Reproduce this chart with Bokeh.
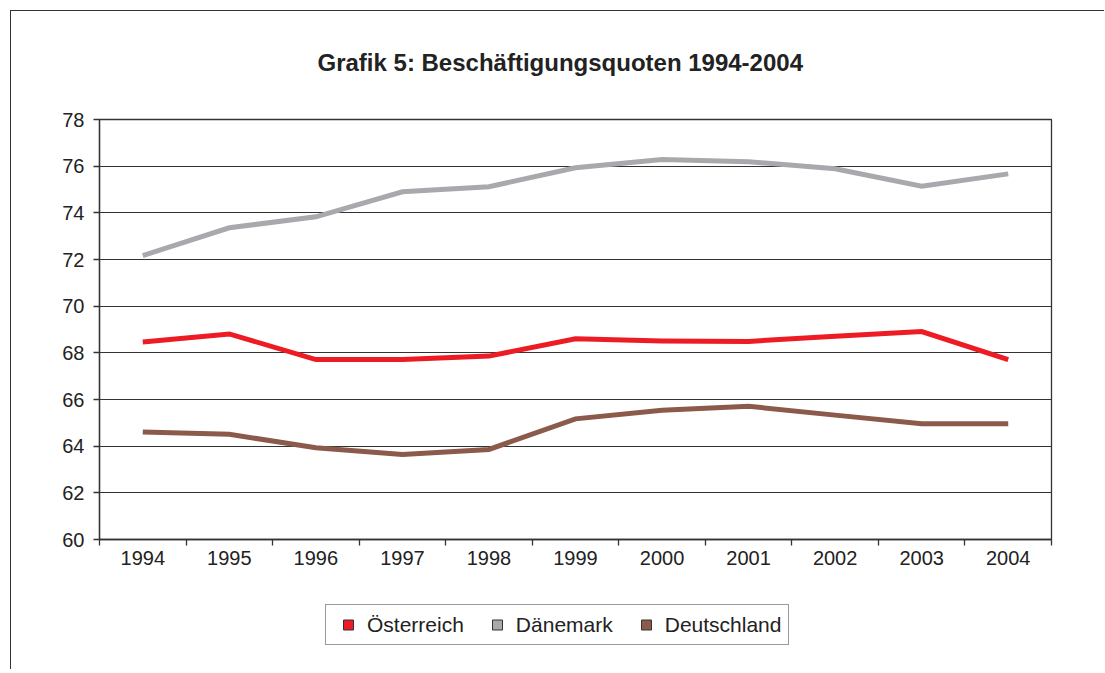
from bokeh.plotting import figure
from bokeh.layouts import column
from bokeh.models import FixedTicker, Legend, LegendItem, Title
from bokeh.embed import file_html
from bokeh.resources import INLINE

# ---- data ----
years = ["1994", "1995", "1996", "1997", "1998", "1999", "2000", "2001", "2002", "2003", "2004"]
oesterreich = [68.46, 68.81, 67.71, 67.71, 67.86, 68.60, 68.51, 68.49, 68.71, 68.91, 67.71]
daenemark = [72.17, 73.36, 73.83, 74.90, 75.12, 75.93, 76.29, 76.19, 75.89, 75.14, 75.67]
deutschland = [64.61, 64.51, 63.93, 63.64, 63.86, 65.17, 65.54, 65.71, 65.33, 64.96, 64.96]
series_names = ["Österreich", "Dänemark", "Deutschland"]
y_ticks = [60, 62, 64, 66, 68, 70, 72, 74, 76, 78]
title_text = "Grafik 5: Beschäftigungsquoten 1994-2004"

colors = {"Österreich": "#ED1C24", "Dänemark": "#A7A9AC", "Deutschland": "#8B5A4A"}

FONT = "Liberation Sans"

# category centres on a numeric axis (index + 0.5), boundaries at integers
xpos = [i + 0.5 for i in range(len(years))]
bounds = list(range(len(years) + 1))
data = {"Österreich": oesterreich, "Dänemark": daenemark, "Deutschland": deutschland}

W = 1093
p = figure(width=W, height=578, output_backend="svg", toolbar_location=None,
           x_range=(0, len(years)), y_range=(y_ticks[0], y_ticks[-1]),
           min_border_left=88, min_border_right=53, min_border_top=108, min_border_bottom=50)
p.background_fill_color = "white"
p.border_fill_color = "white"
p.outline_line_color = "#333333"
p.outline_line_width = 1.3

# spacer between the title and the plot area, then the title itself
p.add_layout(Title(text=" ", text_font=FONT, text_font_size="24px", standoff=15), "above")
p.title.text = title_text
p.title.align = "left"
p.title.offset = 218
p.title.standoff = 0
p.title.text_font = FONT
p.title.text_font_size = "24px"
p.title.text_font_style = "bold"
p.title.text_color = "#222222"

# axes
xa = p.xaxis[0]
xa.ticker = FixedTicker(ticks=xpos, minor_ticks=bounds)
xa.major_label_overrides = {x: y for x, y in zip(xpos, years)}
xa.major_tick_line_color = None
xa.major_tick_out = 6
xa.major_tick_in = 0
xa.minor_tick_line_color = "#333333"
xa.minor_tick_line_width = 1.3
xa.minor_tick_out = 6
xa.minor_tick_in = 0
xa.axis_line_color = "#333333"
xa.axis_line_width = 1.3
xa.major_label_text_font = FONT
xa.major_label_text_font_size = "20px"
xa.major_label_text_color = "#222222"
xa.major_label_standoff = 5

ya = p.yaxis[0]
ya.ticker = FixedTicker(ticks=y_ticks)
ya.minor_tick_line_color = None
ya.major_tick_out = 6
ya.major_tick_in = 0
ya.major_tick_line_color = "#333333"
ya.major_tick_line_width = 1.3
ya.axis_line_color = "#333333"
ya.axis_line_width = 1.3
ya.major_label_text_font = FONT
ya.major_label_text_font_size = "20px"
ya.major_label_text_color = "#222222"
ya.major_label_standoff = 9

p.xgrid.grid_line_color = None
p.ygrid.grid_line_color = "#333333"
p.ygrid.grid_line_width = 1.2
p.ygrid.ticker = FixedTicker(ticks=y_ticks)

# lines
for name in ["Dänemark", "Österreich", "Deutschland"]:
    p.line(xpos, data[name], line_color=colors[name], line_width=5, line_join="miter")

# legend strip below the chart (its own small figure; series points fall outside its view)
lg = figure(width=W, height=80, output_backend="svg", toolbar_location=None,
            x_range=(0, len(years)), y_range=(0, 1),
            min_border_left=0, min_border_right=0, min_border_top=0, min_border_bottom=0)
lg.axis.visible = False
lg.grid.visible = False
lg.outline_line_color = None
lg.background_fill_color = "white"
lg.border_fill_color = "white"
swatches = {}
for name in series_names:
    swatches[name] = lg.scatter(xpos, data[name], marker="square", size=0,
                                fill_color=colors[name], line_color="#333333", line_width=1)
items = [LegendItem(label=name, renderers=[swatches[name]], index=0) for name in series_names]
legend = Legend(items=items, orientation="horizontal", location=(226, 24),
                label_text_font=FONT, label_text_font_size="21px",
                label_text_color="#222222",
                glyph_width=30, glyph_height=25, label_standoff=4, spacing=18,
                padding=7, margin=0, border_line_color="#333333", border_line_width=1.2,
                background_fill_color="white", background_fill_alpha=1)
lg.add_layout(legend, "center")

layout = column(p, lg, spacing=0,
                styles={"margin-left": "10px", "margin-top": "10px",
                        "border-left": "1.5px solid #333333",
                        "border-top": "1.5px solid #333333"})

open("out.html", "w").write(file_html(layout, INLINE))
